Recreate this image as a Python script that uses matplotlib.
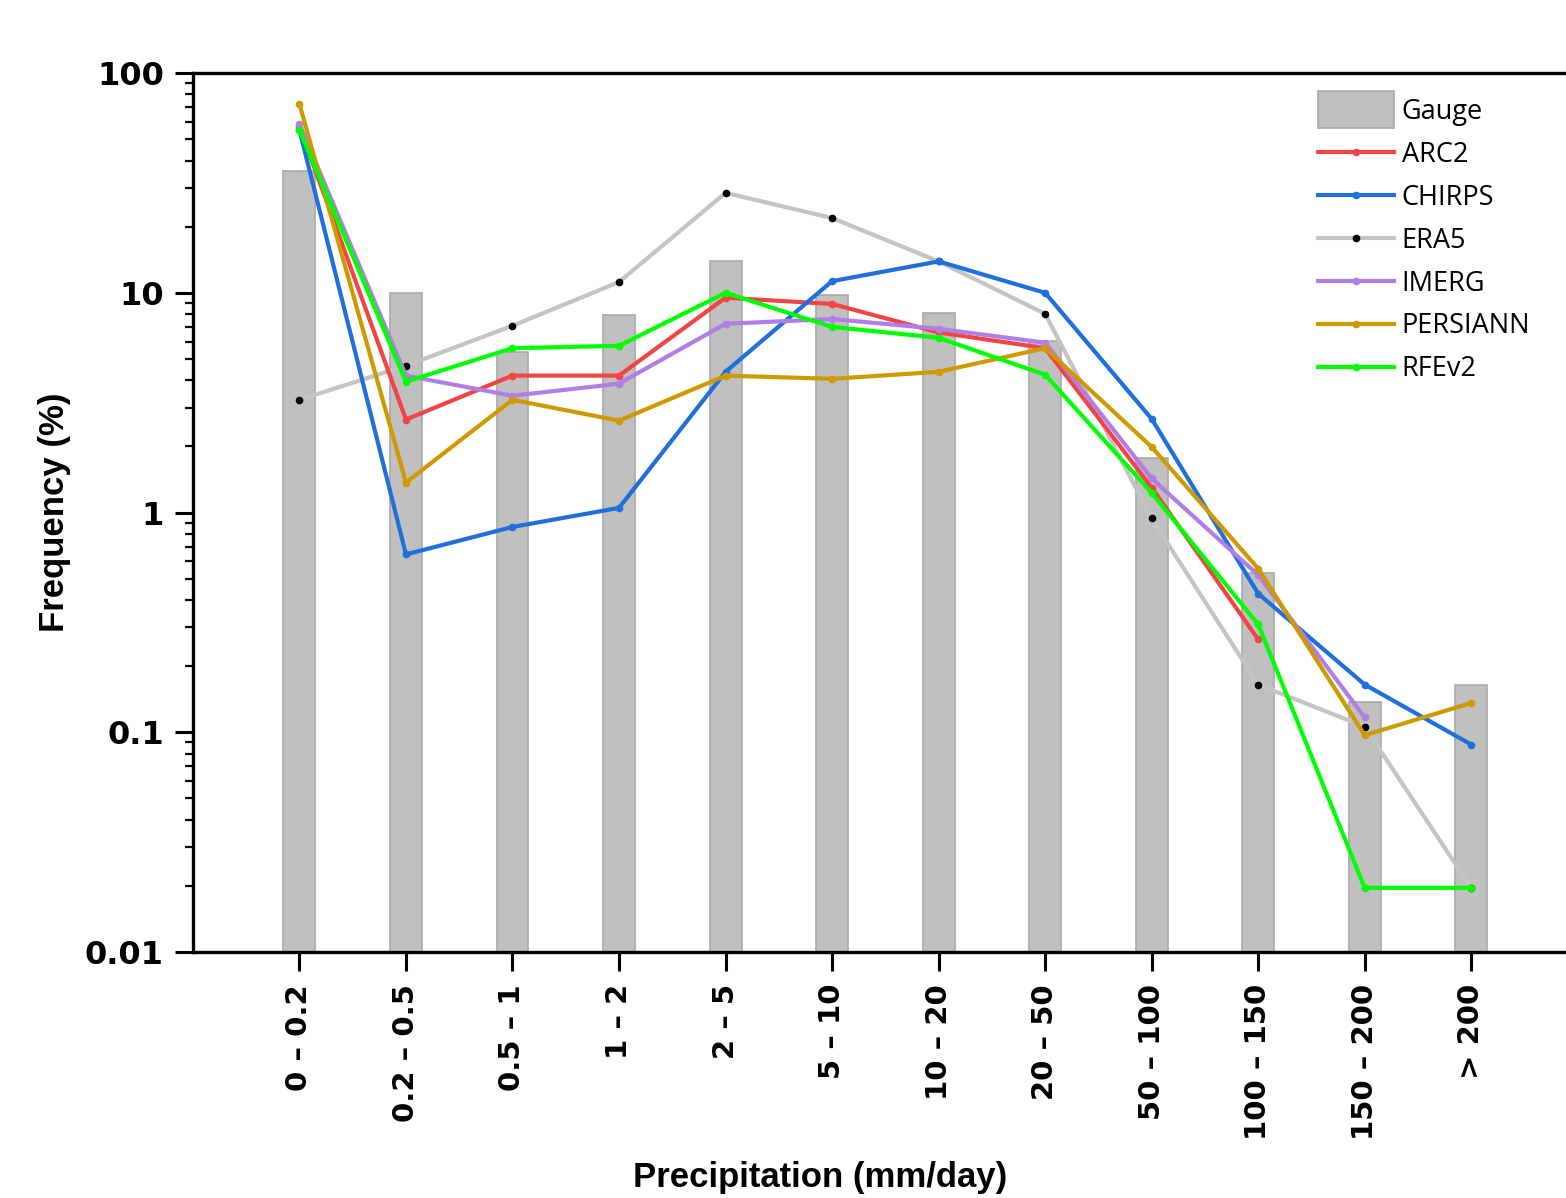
import numpy as np
import matplotlib
matplotlib.use("Agg")
import matplotlib.pyplot as plt
from matplotlib.patches import Rectangle
from matplotlib.container import BarContainer
from matplotlib.legend_handler import HandlerPatch, update_from_first_child
from matplotlib.ticker import FixedLocator, LogLocator, NullFormatter

# precipitation classes (mm/day)
classes = ["0 – 0.2", "0.2 – 0.5", "0.5 – 1", "1 – 2", "2 – 5", "5 – 10",
           "10 – 20", "20 – 50", "50 – 100", "100 – 150", "150 – 200", "> 200"]

# frequency (%) per class
gauge = [35.9, 10.0, 5.4, 7.9, 14.0, 9.8, 8.1, 6.05, 1.78, 0.533, 0.137, 0.165]
arc2 = [57.0, 2.65, 4.2, 4.2, 9.5, 8.9, 6.6, 5.6, 1.3, 0.265]
chirps = [55.0, 0.645, 0.86, 1.05, 4.37, 11.3, 13.9, 10.0, 2.67, 0.428, 0.165, 0.088]
era5 = [3.26, 4.66, 7.08, 11.2, 28.5, 21.9, 13.9, 8.03, 0.94, 0.165, 0.106, 0.0196]
imerg = [58.6, 4.2, 3.4, 3.86, 7.23, 7.6, 6.86, 5.93, 1.43, 0.52, 0.117]
persiann = [72.3, 1.37, 3.26, 2.62, 4.2, 4.06, 4.37, 5.6, 1.99, 0.556, 0.097, 0.136]
rfev2 = [55.0, 3.94, 5.6, 5.74, 10.0, 7.0, 6.24, 4.24, 1.23, 0.31, 0.0196, 0.0196]

x = np.arange(len(classes))

fig = plt.figure(figsize=(15.66, 11.98), dpi=100)
ax = fig.add_axes([0.1232, 0.2053, 0.8768, 0.7337])

ax.bar(x, gauge, width=0.30, color="#c0c0c0", edgecolor="#a9a9a9",
       linewidth=1.2, label="Gauge", zorder=1)

lw = 3.0
ms = 4.5
ax.plot(x[:len(arc2)], arc2, color="#f24444", lw=lw, marker="o", ms=ms,
        label="ARC2", zorder=3)
ax.plot(x, chirps, color="#1f6fdc", lw=lw, marker="o", ms=ms,
        label="CHIRPS", zorder=3)
ax.plot(x, era5, color="#c4c4c4", lw=lw, marker="o", ms=ms,
        markerfacecolor="black", markeredgecolor="black",
        label="ERA5", zorder=2)
ax.plot(x[:len(imerg)], imerg, color="#b07ee6", lw=lw, marker="o", ms=ms,
        label="IMERG", zorder=3)
ax.plot(x, persiann, color="#cf9a00", lw=lw, marker="o", ms=ms,
        label="PERSIANN", zorder=3)
ax.plot(x, rfev2, color="#00ff00", lw=lw, marker="o", ms=ms,
        label="RFEv2", zorder=3)

ax.set_yscale("log")
ax.set_ylim(0.01, 100)
ax.set_xlim(-1.0, 11.89)

ax.yaxis.set_major_locator(FixedLocator([0.01, 0.1, 1, 10, 100]))
ax.set_yticklabels(["0.01", "0.1", "1", "10", "100"])
ax.yaxis.set_minor_locator(LogLocator(base=10, subs=np.arange(2, 10)))
ax.yaxis.set_minor_formatter(NullFormatter())

ax.set_xticks(x)
ax.set_xticklabels(classes, rotation=90)

for lab in ax.get_yticklabels():
    lab.set_fontfamily("DejaVu Sans")
    lab.set_fontweight("bold")
    lab.set_fontsize(23)
for lab in ax.get_xticklabels():
    lab.set_fontfamily("DejaVu Sans")
    lab.set_fontweight("bold")
    lab.set_fontsize(21)

ax.tick_params(axis="y", which="major", direction="out", length=13, width=2.2, pad=8)
ax.tick_params(axis="y", which="minor", direction="out", length=6, width=1.6)
ax.tick_params(axis="x", which="major", direction="out", length=14, width=2.2, pad=9)

for side in ["left", "bottom", "top"]:
    ax.spines[side].set_linewidth(2.4)
ax.spines["right"].set_visible(False)

ax.set_xlabel("Precipitation (mm/day)", fontfamily="Liberation Sans",
              fontweight="bold", fontsize=25)
ax.set_ylabel("Frequency (%)", fontfamily="Liberation Sans",
              fontweight="bold", fontsize=25)
ax.xaxis.set_label_coords(0.4567, -0.256)
ax.xaxis.label.set_va("center")
ax.yaxis.set_label_coords(-0.1005, 0.5)
ax.yaxis.label.set_va("center")


# taller box for the Gauge entry, like the original legend
def tall_box(legend, orig_handle, xdescent, ydescent, width, height, fontsize):
    k = 1.95
    return Rectangle((-xdescent, -ydescent - (k - 1) / 2 * height), width, height * k)


handles, labels = ax.get_legend_handles_labels()
order = [labels.index(n) for n in ["Gauge", "ARC2", "CHIRPS", "ERA5",
                                    "IMERG", "PERSIANN", "RFEv2"]]
leg = ax.legend([handles[i] for i in order], [labels[i] for i in order],
                loc="upper left", bbox_to_anchor=(0.8114, 0.984), frameon=False,
                prop={"family": "Open Sans", "size": 19.5},
                handlelength=2.8, handletextpad=0.3, labelspacing=0.55,
                borderaxespad=0.0, borderpad=0.4,
                handler_map={BarContainer: HandlerPatch(patch_func=tall_box,
                                                        update_func=update_from_first_child)})

fig.savefig("out.png", dpi=100)
